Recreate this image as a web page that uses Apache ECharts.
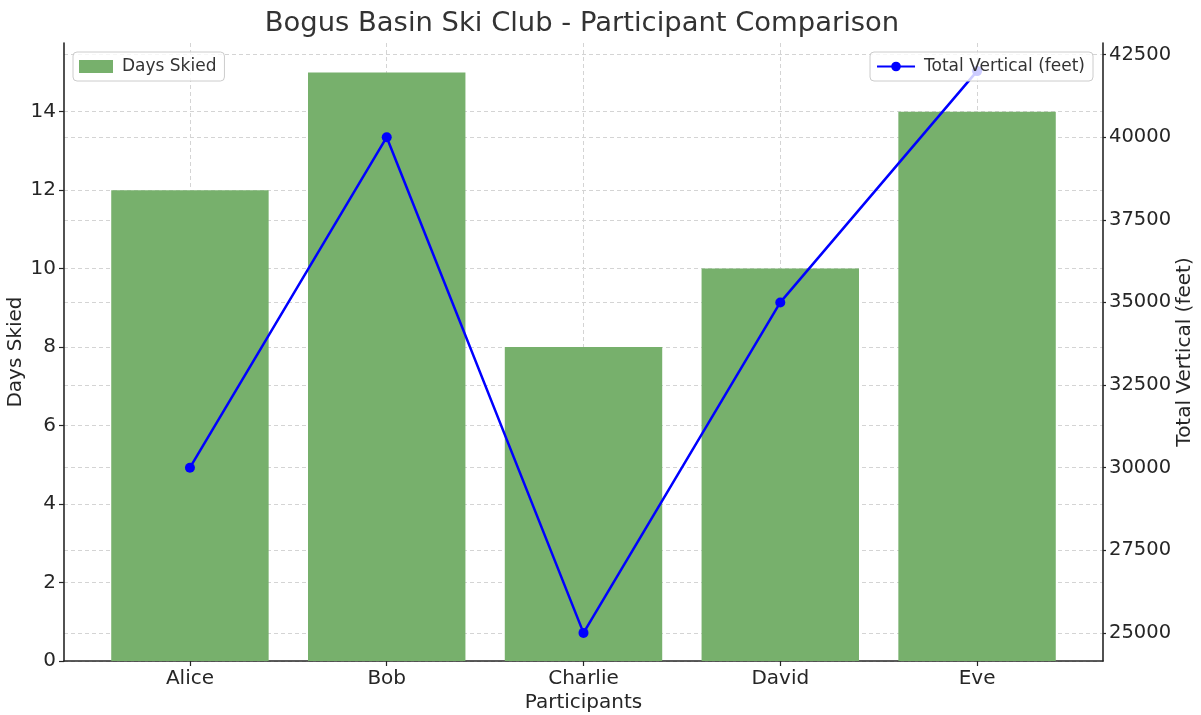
<!DOCTYPE html>
<html><head><meta charset="utf-8">
<script src="https://cdn.jsdelivr.net/npm/echarts@6/dist/echarts.min.js"></script>
<style>html,body{margin:0;padding:0;background:#fff}#c{width:1201px;height:715px}</style>
</head><body><div id="c"></div>
<script>
const participants = ['Alice', 'Bob', 'Charlie', 'David', 'Eve'];
const daysSkied = [12, 15, 8, 10, 14];
const totalVertical = [30000, 40000, 25000, 35000, 42000];
const categoryTicks = [0, 1, 2, 3, 4];
const daysTicks = [0, 2, 4, 6, 8, 10, 12, 14];
const verticalTicks = [25000, 27500, 30000, 32500, 35000, 37500, 40000, 42500];
const xLimits = [-0.64, 4.64];
const daysLimits = [0, 15.75];
const verticalLimits = [24150, 42850];

const FONT = 'DejaVu Sans';
const gridLine = { show: true, lineStyle: { color: '#d4d4d4', type: [4, 3], width: 1 } };
const spine = { show: true, onZero: false, lineStyle: { color: '#262626', width: 1.6 } };
const tick = (vals, len) => ({ show: true, customValues: vals, length: len || 5, lineStyle: { color: '#262626', width: 1.2 } });
const label = { color: '#262626', fontSize: 20, fontFamily: FONT, margin: 8, formatter: (v) => String(v) };

const chart = echarts.init(document.getElementById('c'), null, { renderer: 'canvas' });
chart.setOption({
  backgroundColor: '#ffffff',
  animation: false,
  title: {
    text: 'Bogus Basin Ski Club - Participant Comparison',
    left: 577, textAlign: 'center', top: 5,
    textStyle: { fontFamily: FONT, fontSize: 27.4, fontWeight: 'normal', color: '#333333' }
  },
  grid: { left: 64, right: 98, top: 43, bottom: 54, containLabel: false, outerBoundsMode: 'none' },
  legend: [
    {
      data: [{ name: 'Days Skied', icon: 'rect' }],
      left: 73, top: 52, orient: 'horizontal',
      itemWidth: 34, itemHeight: 13, itemGap: 10,
      padding: [6, 8, 6, 6],
      backgroundColor: 'rgba(255,255,255,0.8)', borderColor: '#cccccc', borderWidth: 1, borderRadius: 4,
      textStyle: { fontFamily: FONT, fontSize: 17, color: '#333333', padding: [0, 0, 0, 4] }
    },
    {
      data: ['Total Vertical (feet)'],
      right: 108, top: 52,
      itemWidth: 38, itemHeight: 12,
      padding: [6, 8, 6, 6],
      backgroundColor: 'rgba(255,255,255,0.8)', borderColor: '#cccccc', borderWidth: 1, borderRadius: 4,
      textStyle: { fontFamily: FONT, fontSize: 17, color: '#333333', padding: [0, 0, 0, 4] }
    }
  ],
  xAxis: {
    type: 'value', min: xLimits[0], max: xLimits[1],
    name: 'Participants', nameLocation: 'middle', nameGap: 32, nameMoveOverlap: false,
    nameTextStyle: { fontFamily: FONT, fontSize: 20, color: '#262626' },
    axisLine: spine,
    axisTick: tick(categoryTicks),
    axisLabel: Object.assign({}, label, { customValues: categoryTicks, formatter: (v) => participants[Math.round(v)] }),
    splitLine: gridLine
  },
  yAxis: [
    {
      type: 'value', position: 'left', min: daysLimits[0], max: daysLimits[1],
      name: 'Days Skied', nameLocation: 'middle', nameGap: 38, nameRotate: 90, nameMoveOverlap: false,
      nameTextStyle: { fontFamily: FONT, fontSize: 20, color: '#262626' },
      axisLine: spine,
      axisTick: tick(daysTicks),
      axisLabel: Object.assign({}, label, { customValues: daysTicks }),
      splitLine: gridLine
    },
    {
      type: 'value', position: 'right', min: verticalLimits[0], max: verticalLimits[1],
      name: 'Total Vertical (feet)', nameLocation: 'middle', nameGap: 72, nameRotate: 90, nameMoveOverlap: false,
      nameTextStyle: { fontFamily: FONT, fontSize: 20, color: '#262626' },
      axisLine: spine,
      axisTick: tick(verticalTicks, 3),
      axisLabel: Object.assign({}, label, { customValues: verticalTicks, margin: 6, fontSize: 19.5 }),
      splitLine: gridLine
    }
  ],
  series: [
    {
      name: 'Days Skied', type: 'bar', xAxisIndex: 0, yAxisIndex: 0,
      barWidth: '80%',
      itemStyle: { color: '#77b06c' },
      data: daysSkied.map((v, i) => [i, v])
    },
    {
      name: 'Total Vertical (feet)', type: 'line', xAxisIndex: 0, yAxisIndex: 1,
      symbol: 'circle', symbolSize: 10, showAllSymbol: true,
      lineStyle: { color: '#0000ff', width: 2.5 },
      itemStyle: { color: '#0000ff' },
      z: 3,
      data: totalVertical.map((v, i) => [i, v])
    }
  ]
});
</script>
</body></html>
